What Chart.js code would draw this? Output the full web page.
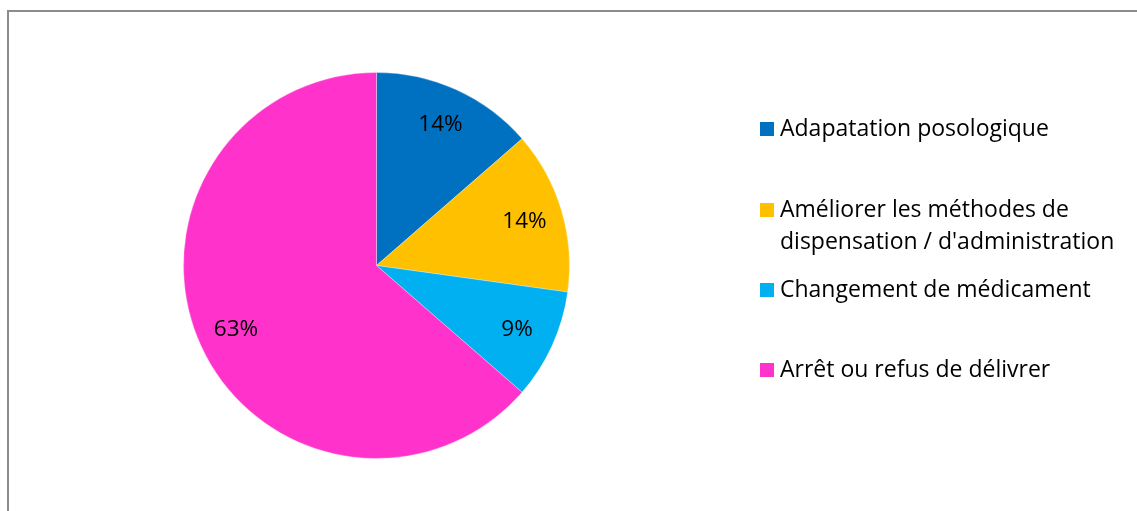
<!DOCTYPE html>
<html>
<head>
<meta charset="utf-8">
<script src="https://cdn.jsdelivr.net/npm/chart.js"></script>
<style>
  html, body { margin: 0; padding: 0; background: #fff; }
  #wrap { position: relative; width: 1137px; height: 511px; overflow: hidden; }
  #frame { position: absolute; left: 7px; top: 10px; width: 1200px; height: 600px;
           border-left: 2px solid #8c8c8c; border-top: 2px solid #8c8c8c; }
  canvas { position: absolute; left: 0; top: 0; }
</style>
</head>
<body>
<div id="wrap">
  <div id="frame"></div>
  <canvas id="myChart" width="1137" height="511"></canvas>
</div>
<script>
// chart data
var categories = ["Adapatation posologique",
                  ["Améliorer les méthodes de", "dispensation / d'administration"],
                  "Changement de médicament",
                  "Arrêt ou refus de délivrer"];
var shares = [13.6, 13.6, 9.2, 63.6];
var pctLabels = ["14%", "14%", "9%", "63%"];
var sliceColors = ["#0070C0", "#FFC000", "#00B0F0", "#FF33CC"];

var FONT = "'Open Sans', sans-serif";

// percentage labels inside each slice
var sliceLabels = {
  id: 'sliceLabels',
  afterDatasetsDraw: function(chart) {
    var ctx = chart.ctx;
    var arcs = chart.getDatasetMeta(0).data;
    ctx.save();
    ctx.font = "22.5px " + FONT;
    ctx.fillStyle = "#000";
    ctx.textAlign = "center";
    ctx.textBaseline = "middle";
    arcs.forEach(function(arc, i) {
      var mid = (arc.startAngle + arc.endAngle) / 2;
      var r = arc.outerRadius * 0.8;
      ctx.fillText(pctLabels[i], arc.x + Math.cos(mid) * r, arc.y + Math.sin(mid) * r);
    });
    ctx.restore();
  }
};

// legend on the right, drawn by hand because one entry wraps on two lines
var sideLegend = {
  id: 'sideLegend',
  afterDraw: function(chart) {
    var ctx = chart.ctx;
    var rowY = [129, 210, 290, 370];
    ctx.save();
    ctx.font = "23px " + FONT;
    ctx.textBaseline = "middle";
    categories.forEach(function(lab, i) {
      ctx.fillStyle = sliceColors[i];
      ctx.fillRect(760, rowY[i] - 7, 14, 14);
      ctx.fillStyle = "#000";
      var lines = Array.isArray(lab) ? lab : [lab];
      lines.forEach(function(t, j) {
        ctx.fillText(t, 780, rowY[i] + j * 32);
      });
    });
    ctx.restore();
  }
};

const ctx = document.getElementById('myChart');

new Chart(ctx, {
  type: 'pie',
  data: {
    labels: categories,
    datasets: [{
      data: shares,
      backgroundColor: sliceColors,
      borderColor: 'rgba(255,255,255,0.3)',
      borderWidth: 1
    }]
  },
  options: {
    responsive: false,
    animation: false,
    layout: { padding: { left: 183, right: 567, top: 72, bottom: 52 } },
    plugins: {
      legend: { display: false },
      tooltip: { enabled: false }
    }
  },
  plugins: [sliceLabels, sideLegend]
});
</script>
</body>
</html>
